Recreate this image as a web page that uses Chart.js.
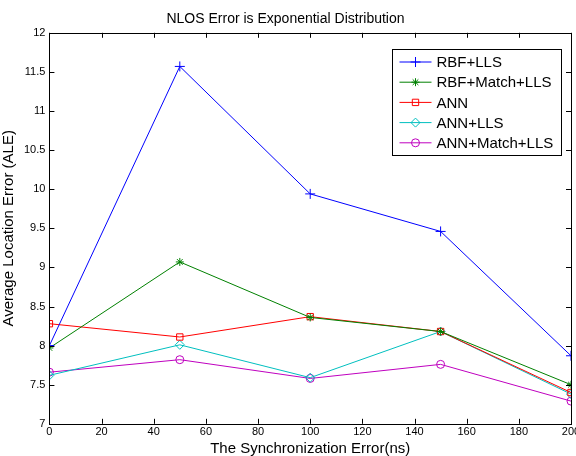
<!DOCTYPE html>
<html>
<head>
<meta charset="utf-8">
<script src="https://cdn.jsdelivr.net/npm/chart.js@4/dist/chart.umd.min.js"></script>
<style>
  html, body { margin: 0; padding: 0; background: #fff; overflow: hidden; }
  #wrap { width: 576px; height: 456px; overflow: hidden; }
</style>
</head>
<body>
<div id="wrap"><canvas id="aleChart" width="600" height="456"></canvas></div>
<script>
// Synchronization error (ns)
const syncError = [0, 50, 100, 150, 200];

// Average location error per method
const rbfLls = [8.00, 11.57, 9.94, 9.46, 7.87];
const rbfMatchLls = [7.97, 9.07, 8.36, 8.18, 7.50];
const ann = [8.28, 8.11, 8.37, 8.18, 7.40];
const annLls = [7.62, 8.01, 7.59, 8.18, 7.38];
const annMatchLls = [7.66, 7.82, 7.58, 7.76, 7.29];

const seriesNames = ['RBF+LLS', 'RBF+Match+LLS', 'ANN', 'ANN+LLS', 'ANN+Match+LLS'];
const seriesColors = ['#0000ff', '#008000', '#ff0000', '#00bfbf', '#bf00bf'];
const seriesMarkers = ['cross', 'star', 'rect', 'rectRot', 'circle'];
const seriesRadius = [5, 4, 4.5, 4.5, 4];

const xTicks = [0, 20, 40, 60, 80, 100, 120, 140, 160, 180, 200];
const yTicks = [7, 7.5, 8, 8.5, 9, 9.5, 10, 10.5, 11, 11.5, 12];

const font = 'Liberation Sans, Arial, Helvetica, sans-serif';

function toPoints(values) {
    return syncError.map((x, i) => ({ x: x, y: values[i] }));
}

const allSeries = [rbfLls, rbfMatchLls, ann, annLls, annMatchLls];

const datasets = allSeries.map((vals, i) => ({
    label: seriesNames[i],
    data: toPoints(vals),
    borderColor: seriesColors[i],
    backgroundColor: 'rgba(0,0,0,0)',
    pointBorderColor: seriesColors[i],
    pointBackgroundColor: 'rgba(0,0,0,0)',
    pointStyle: seriesMarkers[i],
    pointRadius: seriesRadius[i],
    pointBorderWidth: 1,
    borderWidth: 1,
    tension: 0,
    fill: false
}));

// draw a single marker (used for legend)
function drawMarker(ctx, style, x, y, r) {
    ctx.beginPath();
    if (style === 'cross') {
        ctx.moveTo(x - r, y); ctx.lineTo(x + r, y);
        ctx.moveTo(x, y - r); ctx.lineTo(x, y + r);
    } else if (style === 'rect') {
        const s = r * Math.SQRT1_2;
        ctx.rect(x - s, y - s, 2 * s, 2 * s);
    } else if (style === 'rectRot') {
        ctx.moveTo(x, y - r); ctx.lineTo(x + r, y); ctx.lineTo(x, y + r); ctx.lineTo(x - r, y); ctx.closePath();
    } else if (style === 'circle') {
        ctx.arc(x, y, r, 0, Math.PI * 2);
    } else if (style === 'star') {
        for (let k = 0; k < 4; k++) {
            const a = k * Math.PI / 4;
            ctx.moveTo(x - r * Math.cos(a), y - r * Math.sin(a));
            ctx.lineTo(x + r * Math.cos(a), y + r * Math.sin(a));
        }
    }
    ctx.stroke();
}

// MATLAB-like box, inward ticks and inset legend
const matlabFrame = {
    id: 'matlabFrame',
    afterDraw(chart) {
        const ctx = chart.ctx;
        const area = chart.chartArea;
        const xs = chart.scales.x;
        const ys = chart.scales.y;
        ctx.save();
        ctx.strokeStyle = '#000';
        ctx.lineWidth = 1;
        ctx.strokeRect(Math.round(area.left) + 0.5, Math.round(area.top) + 0.5,
            Math.round(area.right - area.left), Math.round(area.bottom - area.top));
        ctx.beginPath();
        xTicks.forEach(v => {
            const px = Math.round(xs.getPixelForValue(v)) + 0.5;
            ctx.moveTo(px, area.bottom); ctx.lineTo(px, area.bottom - 5);
            ctx.moveTo(px, area.top); ctx.lineTo(px, area.top + 5);
        });
        yTicks.forEach(v => {
            const py = Math.round(ys.getPixelForValue(v)) + 0.5;
            ctx.moveTo(area.left, py); ctx.lineTo(area.left + 5, py);
            ctx.moveTo(area.right, py); ctx.lineTo(area.right - 5, py);
        });
        ctx.stroke();

        // legend
        const bx = Math.round(area.right - 179) + 0.5;
        const by = Math.round(area.top + 16) + 0.5;
        const bw = 169, bh = 106;
        ctx.fillStyle = '#fff';
        ctx.fillRect(bx, by, bw, bh);
        ctx.strokeStyle = '#000';
        ctx.strokeRect(bx, by, bw, bh);
        ctx.font = '15px ' + font;
        ctx.textBaseline = 'middle';
        ctx.textAlign = 'left';
        seriesNames.forEach((name, i) => {
            const ry = by + 12.5 + i * 20.2;
            ctx.strokeStyle = seriesColors[i];
            ctx.beginPath();
            ctx.moveTo(bx + 7, ry); ctx.lineTo(bx + 39, ry);
            ctx.stroke();
            drawMarker(ctx, seriesMarkers[i], bx + 23, ry, seriesRadius[i]);
            ctx.fillStyle = '#000';
            ctx.fillText(name, bx + 44, ry + 1);
        });
        ctx.restore();
    }
};

const chart = new Chart(document.getElementById('aleChart'), {
    type: 'line',
    data: { datasets: datasets },
    options: {
        responsive: false,
        animation: false,
        layout: { padding: { top: 6, right: 29, left: 0, bottom: 0 } },
        plugins: {
            legend: { display: false },
            tooltip: { enabled: false },
            title: {
                display: true,
                text: 'NLOS Error is Exponential Distribution',
                color: '#000',
                font: { family: font, size: 14, weight: 'normal' },
                padding: { top: 5, bottom: 5 }
            }
        },
        scales: {
            x: {
                type: 'linear',
                min: 0,
                max: 200,
                afterBuildTicks: s => { s.ticks = xTicks.map(v => ({ value: v })); },
                grid: { display: false, drawTicks: false },
                border: { display: false },
                ticks: { color: '#000', font: { family: font, size: 11 }, padding: 2, maxRotation: 0,
                         callback: v => String(v) },
                title: {
                    display: true,
                    text: 'The Synchronization Error(ns)',
                    color: '#000',
                    font: { family: font, size: 15, lineHeight: 1.0 },
                    padding: { top: 0, bottom: 0 }
                }
            },
            y: {
                type: 'linear',
                min: 7,
                max: 12,
                afterBuildTicks: s => { s.ticks = yTicks.map(v => ({ value: v })); },
                grid: { display: false, drawTicks: false },
                border: { display: false },
                ticks: { color: '#000', font: { family: font, size: 11 }, padding: 4,
                         callback: v => String(v) },
                title: {
                    display: true,
                    text: 'Average Location Error (ALE)',
                    color: '#000',
                    font: { family: font, size: 15 },
                    padding: { top: 0, bottom: 2 }
                }
            }
        }
    },
    plugins: [matlabFrame]
});
</script>
</body>
</html>
